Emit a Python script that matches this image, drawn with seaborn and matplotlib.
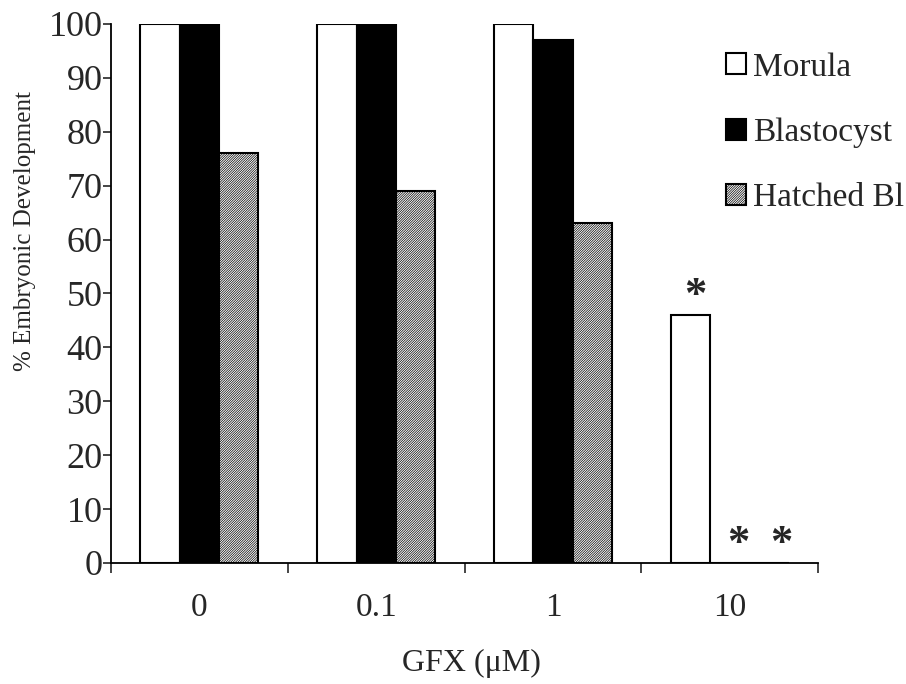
import pandas as pd
import numpy as np
import matplotlib
matplotlib.use('Agg')
import matplotlib.pyplot as plt
import seaborn as sns

sns.set_theme(style='white')
plt.rcParams['font.family'] = ['Liberation Serif', 'DejaVu Serif']
plt.rcParams['hatch.linewidth'] = 0.5

# data
doses = ['0', '0.1', '1', '10']
stages = ['Morula', 'Blastocyst', 'Hatched Bl']
morula = [100, 100, 100, 46]
blastocyst = [100, 100, 97, 0]
hatched = [76, 69, 63, 0]
stars = [('Morula', '10'), ('Blastocyst', '10'), ('Hatched Bl', '10')]

df = pd.DataFrame({
    'GFX': doses * 3,
    'pct': morula + blastocyst + hatched,
    'Stage': np.repeat(stages, len(doses)),
})

fig = plt.figure(figsize=(9.06, 6.84), dpi=100)
ax = fig.add_axes([0.1225, 0.177, 0.7805, 0.788])

bw = 0.667
sns.barplot(data=df, x='GFX', y='pct', hue='Stage', order=doses,
            hue_order=stages, palette=['white', 'black', 'white'],
            width=bw, edgecolor='black', linewidth=1.5, dodge=True,
            legend=False, ax=ax, saturation=1)

for bar in ax.containers[2]:
    bar.set_hatch('//////////////')

ax.set_ylim(0, 100)
ax.set_xlim(-0.5, 3.5)
ax.set_yticks(range(0, 101, 10))
ax.tick_params(axis='y', labelsize=26, length=6, width=1.2, pad=0, direction='out', left=True)
ax.set_xticks(np.arange(-0.5, 4, 1))
ax.set_xticklabels([])
ax.set_xticks(range(len(doses)), minor=True)
ax.set_xticklabels(doses, minor=True)
ax.tick_params(axis='x', which='major', length=7, width=1.2, direction='out', bottom=True)
ax.tick_params(axis='x', which='minor', length=0, labelsize=24, pad=21)

for s in ['top', 'right']:
    ax.spines[s].set_visible(False)
for s in ['left', 'bottom']:
    ax.spines[s].set_linewidth(1.3)
    ax.spines[s].set_color('black')

ax.set_xlabel('GFX (\u03bcM)', fontsize=23)
ax.xaxis.set_label_coords(0.51, -0.186)
ax.xaxis.label.set_va('center')
ax.set_ylabel('% Embryonic Development', fontsize=18)
ax.yaxis.set_label_coords(-0.122, 0.616)
ax.yaxis.label.set_va('center')

# significance markers
sub = bw / 3
shift = {'Morula': -sub + 0.03, 'Blastocyst': 0.05, 'Hatched Bl': sub + 0.07}
for stage, dose in stars:
    i = doses.index(dose)
    val = df[(df.Stage == stage) & (df.GFX == dose)].pct.iloc[0]
    ax.text(i + shift[stage], val + 3.5, '*', ha='center', va='center',
            fontsize=32, fontweight='bold')

handles = [ax.containers[k][0] for k in range(3)]
fig.legend(handles, stages, loc='upper left', bbox_to_anchor=(726 / 906, 1 - 52 / 684),
           frameon=False, fontsize=24, handlelength=0.6, handleheight=0.6,
           handletextpad=0.2, labelspacing=1.05, borderpad=0, borderaxespad=0)

fig.savefig('out.png', dpi=100)
